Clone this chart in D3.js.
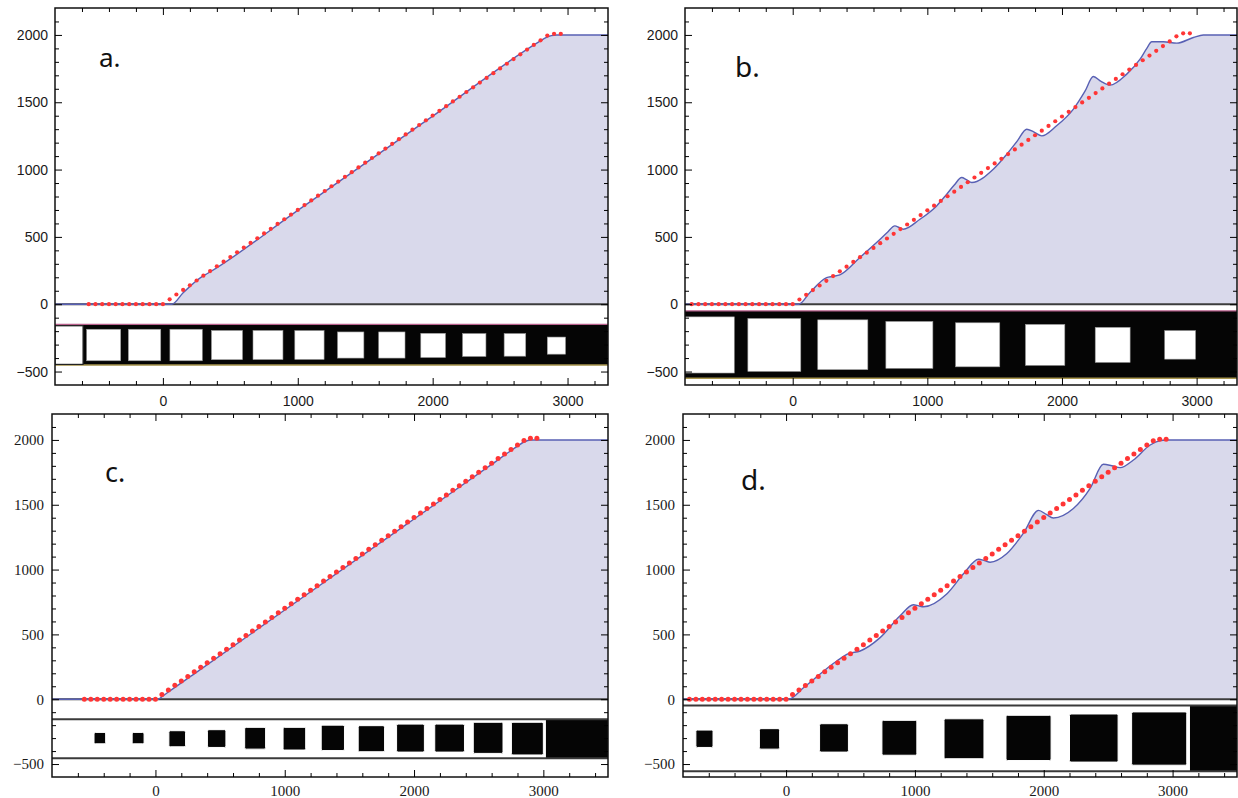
<!DOCTYPE html>
<html>
<head>
<meta charset="utf-8">
<script src="https://cdn.jsdelivr.net/npm/d3@7"></script>
<style>
  body { margin: 0; background: #fff; }
</style>
</head>
<body>
<svg id="fig" width="1238" height="798"></svg>
<script>
// tick labels shared by all four panels
var xTickValues = [0, 1000, 2000, 3000];
var yTickValues = [-500, 0, 500, 1000, 1500, 2000];

// red target dots (x positions)
var dotsX_ac = [-550,-500,-450,-400,-350,-300,-250,-200,-150,-100,-50,0,
  50,100,150,200,250,300,350,400,450,500,550,600,650,700,750,800,850,900,950,1000,
  1050,1100,1150,1200,1250,1300,1350,1400,1450,1500,1550,1600,1650,1700,1750,1800,1850,1900,1950,2000,
  2050,2100,2150,2200,2250,2300,2350,2400,2450,2500,2550,2600,2650,2700,2750,2800,2850,2900,2950];
var dotsX_bd = [-750,-700,-650,-600,-550,-500,-450,-400,-350,-300,-250,-200,-150,-100,-50,0,
  50,100,150,200,250,300,350,400,450,500,550,600,650,700,750,800,850,900,950,1000,
  1050,1100,1150,1200,1250,1300,1350,1400,1450,1500,1550,1600,1650,1700,1750,1800,1850,1900,1950,2000,
  2050,2100,2150,2200,2250,2300,2350,2400,2450,2500,2550,2600,2650,2700,2750,2800,2850,2900,2950];

// red target dots (y values)
var dotsY_a = [0,0,0,0,0,0,0,0,0,0,0,0,
  36,72,106,140,176,212,246,282,316,350, 386,421,455,490,526,560,596,631,666,700,
  736,771,806,841,876,911,946,981,1016,1051, 1086,1121,1156,1191,1226,1261,1296,1331,1366,1401,
  1436,1471,1506,1541,1576,1611,1646,1681,1716,1751, 1786,1821,1856,1891,1926,1960, 1995,2008,2008];
var dotsY_b = [0,0,0,0,0,0,0,0,0,0,0,0,0,0,0,0,
  35,70,105,139,174,209,244,279,314,349, 383,418,453,488,523,558,592,627,662,697,
  732,767,802,836,871,906,941,976,1011,1046, 1080,1115,1150,1185,1220,1255,1289,1324,1359,1394,
  1429,1464,1499,1533,1568,1603,1638,1673,1708,1743, 1777,1812,1847,1882,1917,1952, 1990,2012,2012];
var dotsY_c = [0,0,0,0,0,0,0,0,0,0,0,0,
  37,72,107,141,176,211,246,281,316,351, 386,421,456,491,526,561,596,631,666,701,
  736,771,806,841,876,911,946,981,1016,1051, 1086,1121,1156,1191,1226,1261,1296,1331,1366,1401,
  1436,1471,1506,1541,1576,1611,1646,1681,1716,1751, 1786,1821,1856,1891,1926,1961, 1996,2012,2012];
var dotsY_d = [0,0,0,0,0,0,0,0,0,0,0,0,0,0,0,0,
  36,71,106,141,176,211,246,281,316,351, 386,421,456,491,526,561,596,631,666,701,
  736,771,806,841,876,911,946,981,1016,1051, 1086,1121,1156,1191,1226,1261,1296,1331,1366,1401,
  1436,1471,1506,1541,1576,1611,1646,1681,1716,1751, 1786,1821,1856,1891,1926,1960, 1993,2005,2005];

// blue measured curves
var lineAX = [-800, 65, 150, 290, 330, 1000, 2000, 2790, 2840, 2880, 2920, 3300];
var lineAY = [0, 0, 85, 205, 228, 697, 1397, 1950, 1980, 1995, 2000, 2000];
var lineBX = [-800, 45, 128, 252, 300, 350, 499, 623, 700, 759, 790, 821, 945, 1069, 1144, 1200, 1255, 1290, 1330,
  1490, 1590, 1670, 1738, 1790, 1850, 1960, 2085, 2170, 2233, 2290, 2357, 2481, 2580, 2630, 2667, 2753, 2853, 2976, 3050, 3300];
var lineBY = [0, 0, 87, 198, 207, 218, 347, 458, 530, 582, 570, 557, 631, 730, 817, 885, 941, 925, 904,
  1003, 1114, 1215, 1300, 1280, 1250, 1325, 1449, 1580, 1691, 1655, 1627, 1709, 1820, 1900, 1949, 1949, 1939, 1981, 2000, 2000];
var lineCX = [-800, 20, 50, 100, 300, 1000, 2000, 2600, 2800, 2850, 2900, 3500];
var lineCY = [0, 0, 20, 56, 196, 688, 1390, 1811, 1952, 1984, 2000, 2000];
var lineDX = [-800, 18, 135, 394, 484, 575, 730, 885, 988, 1030, 1066, 1247, 1377, 1494, 1540, 1584, 1712, 1840,
  1960, 2020, 2075, 2230, 2360, 2463, 2528, 2593, 2696, 2826, 2904, 2950, 3500];
var lineDY = [0, 0, 88, 295, 351, 372, 475, 643, 729, 720, 713, 812, 967, 1080, 1070, 1057, 1122, 1277,
  1457, 1425, 1398, 1471, 1626, 1812, 1801, 1786, 1845, 1961, 1995, 2000, 2000];

// strip a: white holes in a black band
var holesA_x0 = [-565,-256,52,360,668,978,1295,1600,1912,2222,2530,2850];
var holesA_x1 = [-313,-16,292,590,890,1195,1490,1795,2095,2395,2690,2985];
var holesA_top = [-186,-186,-186,-195,-195,-196,-206,-206,-216,-218,-218,-244];
var holesA_bot = [-420,-420,-420,-412,-411,-410,-400,-400,-396,-388,-386,-371];
// strip b
var holesB_x0 = [-808,-333,186,692,1210,1729,2247,2763];
var holesB_x1 = [-434,60,558,1041,1538,2021,2506,2992];
var holesB_top = [-94,-106,-116,-128,-138,-150,-172,-196];
var holesB_bot = [-511,-499,-486,-476,-465,-454,-432,-408];
// strip c: black squares in a white box
var squaresC_x0 = [-475,-180,104,402,690,987,1282,1568,1865,2160,2458,2753];
var squaresC_x1 = [-385,-88,233,545,852,1162,1462,1772,2080,2390,2688,3000];
var squaresC_top = [-256,-256,-243,-235,-217,-217,-200,-204,-192,-192,-178,-178];
var squaresC_bot = [-344,-344,-367,-372,-385,-392,-396,-405,-408,-408,-418,-430];
// strip d
var squaresD_x0 = [-700,-207,260,744,1226,1707,2200,2682];
var squaresD_x1 = [-567,-50,484,1015,1536,2057,2577,3110];
var squaresD_top = [-238,-227,-189,-163,-151,-124,-114,-98];
var squaresD_bot = [-372,-385,-408,-432,-459,-473,-485,-509];

var yDomain = [-600, 2200];

var panels = [
  {id: "a", left: 55, right: 608, top: 8, bottom: 385, xDomain: [-800, 3300],
   lineX: lineAX, lineY: lineAY, dotX: dotsX_ac, dotY: dotsY_a, dotR: 2.1,
   font: "Liberation Sans, Arial, sans-serif", fontSize: 14, xPad: 11, yPad: 7,
   letter: "a.", letterX: 99, letterY: 67, letterSize: 26,
   strip: {type: "band", bandTop: -150, bandBottom: -452, box: [-800, -592, -160, -447],
     x0: holesA_x0, x1: holesA_x1, top: holesA_top, bot: holesA_bot}},
  {id: "b", left: 685, right: 1237, top: 8, bottom: 385, xDomain: [-800, 3300],
   lineX: lineBX, lineY: lineBY, dotX: dotsX_bd, dotY: dotsY_b, dotR: 2.1,
   font: "Liberation Sans, Arial, sans-serif", fontSize: 14, xPad: 11, yPad: 7,
   letter: "b.", letterX: 735, letterY: 77, letterSize: 28,
   strip: {type: "band", bandTop: -50, bandBottom: -550, box: null,
     x0: holesB_x0, x1: holesB_x1, top: holesB_top, bot: holesB_bot}},
  {id: "c", left: 52, right: 608, top: 414, bottom: 777, xDomain: [-800, 3500],
   lineX: lineCX, lineY: lineCY, dotX: dotsX_ac, dotY: dotsY_c, dotR: 2.5,
   font: "Liberation Serif, Times New Roman, serif", fontSize: 15, xPad: 8, yPad: 8,
   letter: "c.", letterX: 105, letterY: 482, letterSize: 27,
   strip: {type: "box", boxTop: -155, boxBottom: -455, blackFrom: 3020,
     x0: squaresC_x0, x1: squaresC_x1, top: squaresC_top, bot: squaresC_bot}},
  {id: "d", left: 683, right: 1237, top: 414, bottom: 777, xDomain: [-800, 3500],
   lineX: lineDX, lineY: lineDY, dotX: dotsX_bd, dotY: dotsY_d, dotR: 2.5,
   font: "Liberation Serif, Times New Roman, serif", fontSize: 15, xPad: 8, yPad: 8,
   letter: "d.", letterX: 741, letterY: 490, letterSize: 28,
   strip: {type: "box", boxTop: -48, boxBottom: -556, blackFrom: 3135,
     x0: squaresD_x0, x1: squaresD_x1, top: squaresD_top, bot: squaresD_bot}}
];

var svg = d3.select("#fig");

function drawBand(plot, x, y, s, p) {
  plot.append("rect")
    .attr("x", x(p.xDomain[0])).attr("width", x(p.xDomain[1]) - x(p.xDomain[0]))
    .attr("y", y(s.bandTop)).attr("height", y(s.bandBottom) - y(s.bandTop))
    .attr("fill", "#050505");
  plot.append("line")
    .attr("x1", x(p.xDomain[0])).attr("x2", x(p.xDomain[1]))
    .attr("y1", y(s.bandTop)).attr("y2", y(s.bandTop))
    .attr("stroke", "#b8608c").attr("stroke-width", 1.3);
  plot.append("line")
    .attr("x1", x(p.xDomain[0])).attr("x2", x(p.xDomain[1]))
    .attr("y1", y(s.bandBottom)).attr("y2", y(s.bandBottom))
    .attr("stroke", "#a8964e").attr("stroke-width", 1.6);
  if (s.box) {
    plot.append("rect")
      .attr("x", x(s.box[0])).attr("width", x(s.box[1]) - x(s.box[0]))
      .attr("y", y(s.box[2])).attr("height", y(s.box[3]) - y(s.box[2]))
      .attr("fill", "#fff").attr("stroke", "#222").attr("stroke-width", 1.2);
  }
  plot.selectAll("rect.hole")
    .data(d3.zip(s.x0, s.x1, s.top, s.bot))
    .join("rect")
    .attr("class", "hole")
    .attr("x", d => x(d[0])).attr("width", d => x(d[1]) - x(d[0]))
    .attr("y", d => y(d[2])).attr("height", d => y(d[3]) - y(d[2]))
    .attr("fill", "#fff").attr("stroke", "#999").attr("stroke-width", 0.6);
}

function drawBox(plot, x, y, s, p) {
  plot.append("rect")
    .attr("x", x(s.blackFrom)).attr("width", x(p.xDomain[1]) - x(s.blackFrom))
    .attr("y", y(s.boxTop)).attr("height", y(s.boxBottom) - y(s.boxTop))
    .attr("fill", "#050505");
  [s.boxTop, s.boxBottom].forEach(function(v) {
    plot.append("line")
      .attr("x1", x(p.xDomain[0])).attr("x2", x(p.xDomain[1]))
      .attr("y1", y(v)).attr("y2", y(v))
      .attr("stroke", "#3a3a3a").attr("stroke-width", 2);
  });
  plot.selectAll("rect.square")
    .data(d3.zip(s.x0, s.x1, s.top, s.bot))
    .join("rect")
    .attr("class", "square")
    .attr("x", d => x(d[0])).attr("width", d => x(d[1]) - x(d[0]))
    .attr("y", d => y(d[2])).attr("height", d => y(d[3]) - y(d[2]))
    .attr("rx", 1.5)
    .attr("fill", "#050505").attr("stroke", "#fff").attr("stroke-width", 1);
}

function styleAxis(sel, p) {
  sel.select(".domain").remove();
  sel.attr("font-family", p.font).attr("font-size", p.fontSize);
  sel.selectAll(".tick line").attr("stroke", "#000").attr("stroke-width", 1);
  sel.selectAll(".tick text").attr("fill", "#1a1a1a");
}

function drawAxes(g, x, y, p) {
  var xMinor = d3.range(-800, 3501, 200)
    .filter(v => v % 1000 !== 0 && v > p.xDomain[0] && v < p.xDomain[1]);
  var yMinor = d3.range(-600, 2201, 100)
    .filter(v => v % 500 !== 0 && v > yDomain[0] && v < yDomain[1]);

  // bottom (labelled) and top
  g.append("g").attr("transform", `translate(0,${p.bottom})`)
    .call(d3.axisBottom(x).tickValues(xTickValues).tickFormat(d3.format("d"))
      .tickSizeInner(-7).tickSizeOuter(0).tickPadding(p.xPad))
    .call(styleAxis, p);
  g.append("g").attr("transform", `translate(0,${p.bottom})`)
    .call(d3.axisBottom(x).tickValues(xMinor).tickFormat("").tickSizeInner(-4).tickSizeOuter(0))
    .call(styleAxis, p);
  g.append("g").attr("transform", `translate(0,${p.top})`)
    .call(d3.axisTop(x).tickValues(xTickValues).tickFormat("").tickSizeInner(-7).tickSizeOuter(0))
    .call(styleAxis, p);
  g.append("g").attr("transform", `translate(0,${p.top})`)
    .call(d3.axisTop(x).tickValues(xMinor).tickFormat("").tickSizeInner(-4).tickSizeOuter(0))
    .call(styleAxis, p);

  // left (labelled) and right
  g.append("g").attr("transform", `translate(${p.left},0)`)
    .call(d3.axisLeft(y).tickValues(yTickValues).tickFormat(d3.format("d"))
      .tickSizeInner(-7).tickSizeOuter(0).tickPadding(p.yPad))
    .call(styleAxis, p);
  g.append("g").attr("transform", `translate(${p.left},0)`)
    .call(d3.axisLeft(y).tickValues(yMinor).tickFormat("").tickSizeInner(-4).tickSizeOuter(0))
    .call(styleAxis, p);
  g.append("g").attr("transform", `translate(${p.right},0)`)
    .call(d3.axisRight(y).tickValues(yTickValues).tickFormat("").tickSizeInner(-7).tickSizeOuter(0))
    .call(styleAxis, p);
  g.append("g").attr("transform", `translate(${p.right},0)`)
    .call(d3.axisRight(y).tickValues(yMinor).tickFormat("").tickSizeInner(-4).tickSizeOuter(0))
    .call(styleAxis, p);
}

function drawPanel(p) {
  var x = d3.scaleLinear().domain(p.xDomain).range([p.left, p.right]);
  var y = d3.scaleLinear().domain(yDomain).range([p.bottom, p.top]);
  var g = svg.append("g").attr("class", "panel-" + p.id);

  g.append("clipPath").attr("id", "clip-" + p.id)
    .append("rect")
    .attr("x", p.left).attr("y", p.top)
    .attr("width", p.right - p.left).attr("height", p.bottom - p.top);

  var plot = g.append("g").attr("clip-path", `url(#clip-${p.id})`);

  // photo strip under the axis
  if (p.strip.type === "band") drawBand(plot, x, y, p.strip, p);
  else drawBox(plot, x, y, p.strip, p);

  var pts = d3.zip(p.lineX, p.lineY);

  // shaded area under the measured curve
  var area = d3.area()
    .x(d => x(d[0]))
    .y0(y(0))
    .y1(d => y(d[1]))
    .curve(d3.curveMonotoneX);
  plot.append("path").datum(pts)
    .attr("d", area)
    .attr("fill", "#d9d9eb");

  // zero line
  plot.append("line")
    .attr("x1", p.left).attr("x2", p.right)
    .attr("y1", y(0)).attr("y2", y(0))
    .attr("stroke", "#3c3c3c").attr("stroke-width", 2);

  // measured curve
  var line = d3.line()
    .x(d => x(d[0]))
    .y(d => y(d[1]))
    .curve(d3.curveMonotoneX);
  plot.append("path").datum(pts)
    .attr("d", line)
    .attr("fill", "none")
    .attr("stroke", "#5860b4")
    .attr("stroke-width", 1.4);

  // target dots
  plot.selectAll("circle")
    .data(d3.zip(p.dotX, p.dotY))
    .join("circle")
    .attr("cx", d => x(d[0]))
    .attr("cy", d => y(d[1]))
    .attr("r", p.dotR)
    .attr("fill", "#ff3535");

  // frame
  g.append("rect")
    .attr("x", p.left).attr("y", p.top)
    .attr("width", p.right - p.left).attr("height", p.bottom - p.top)
    .attr("fill", "none").attr("stroke", "#111").attr("stroke-width", 1.5);

  drawAxes(g, x, y, p);

  // panel letter
  g.append("text")
    .attr("x", p.letterX).attr("y", p.letterY)
    .attr("font-family", "Noto Sans, Open Sans, sans-serif")
    .attr("font-size", p.letterSize)
    .attr("fill", "#111")
    .text(p.letter);
}

panels.forEach(drawPanel);
</script>
</body>
</html>
